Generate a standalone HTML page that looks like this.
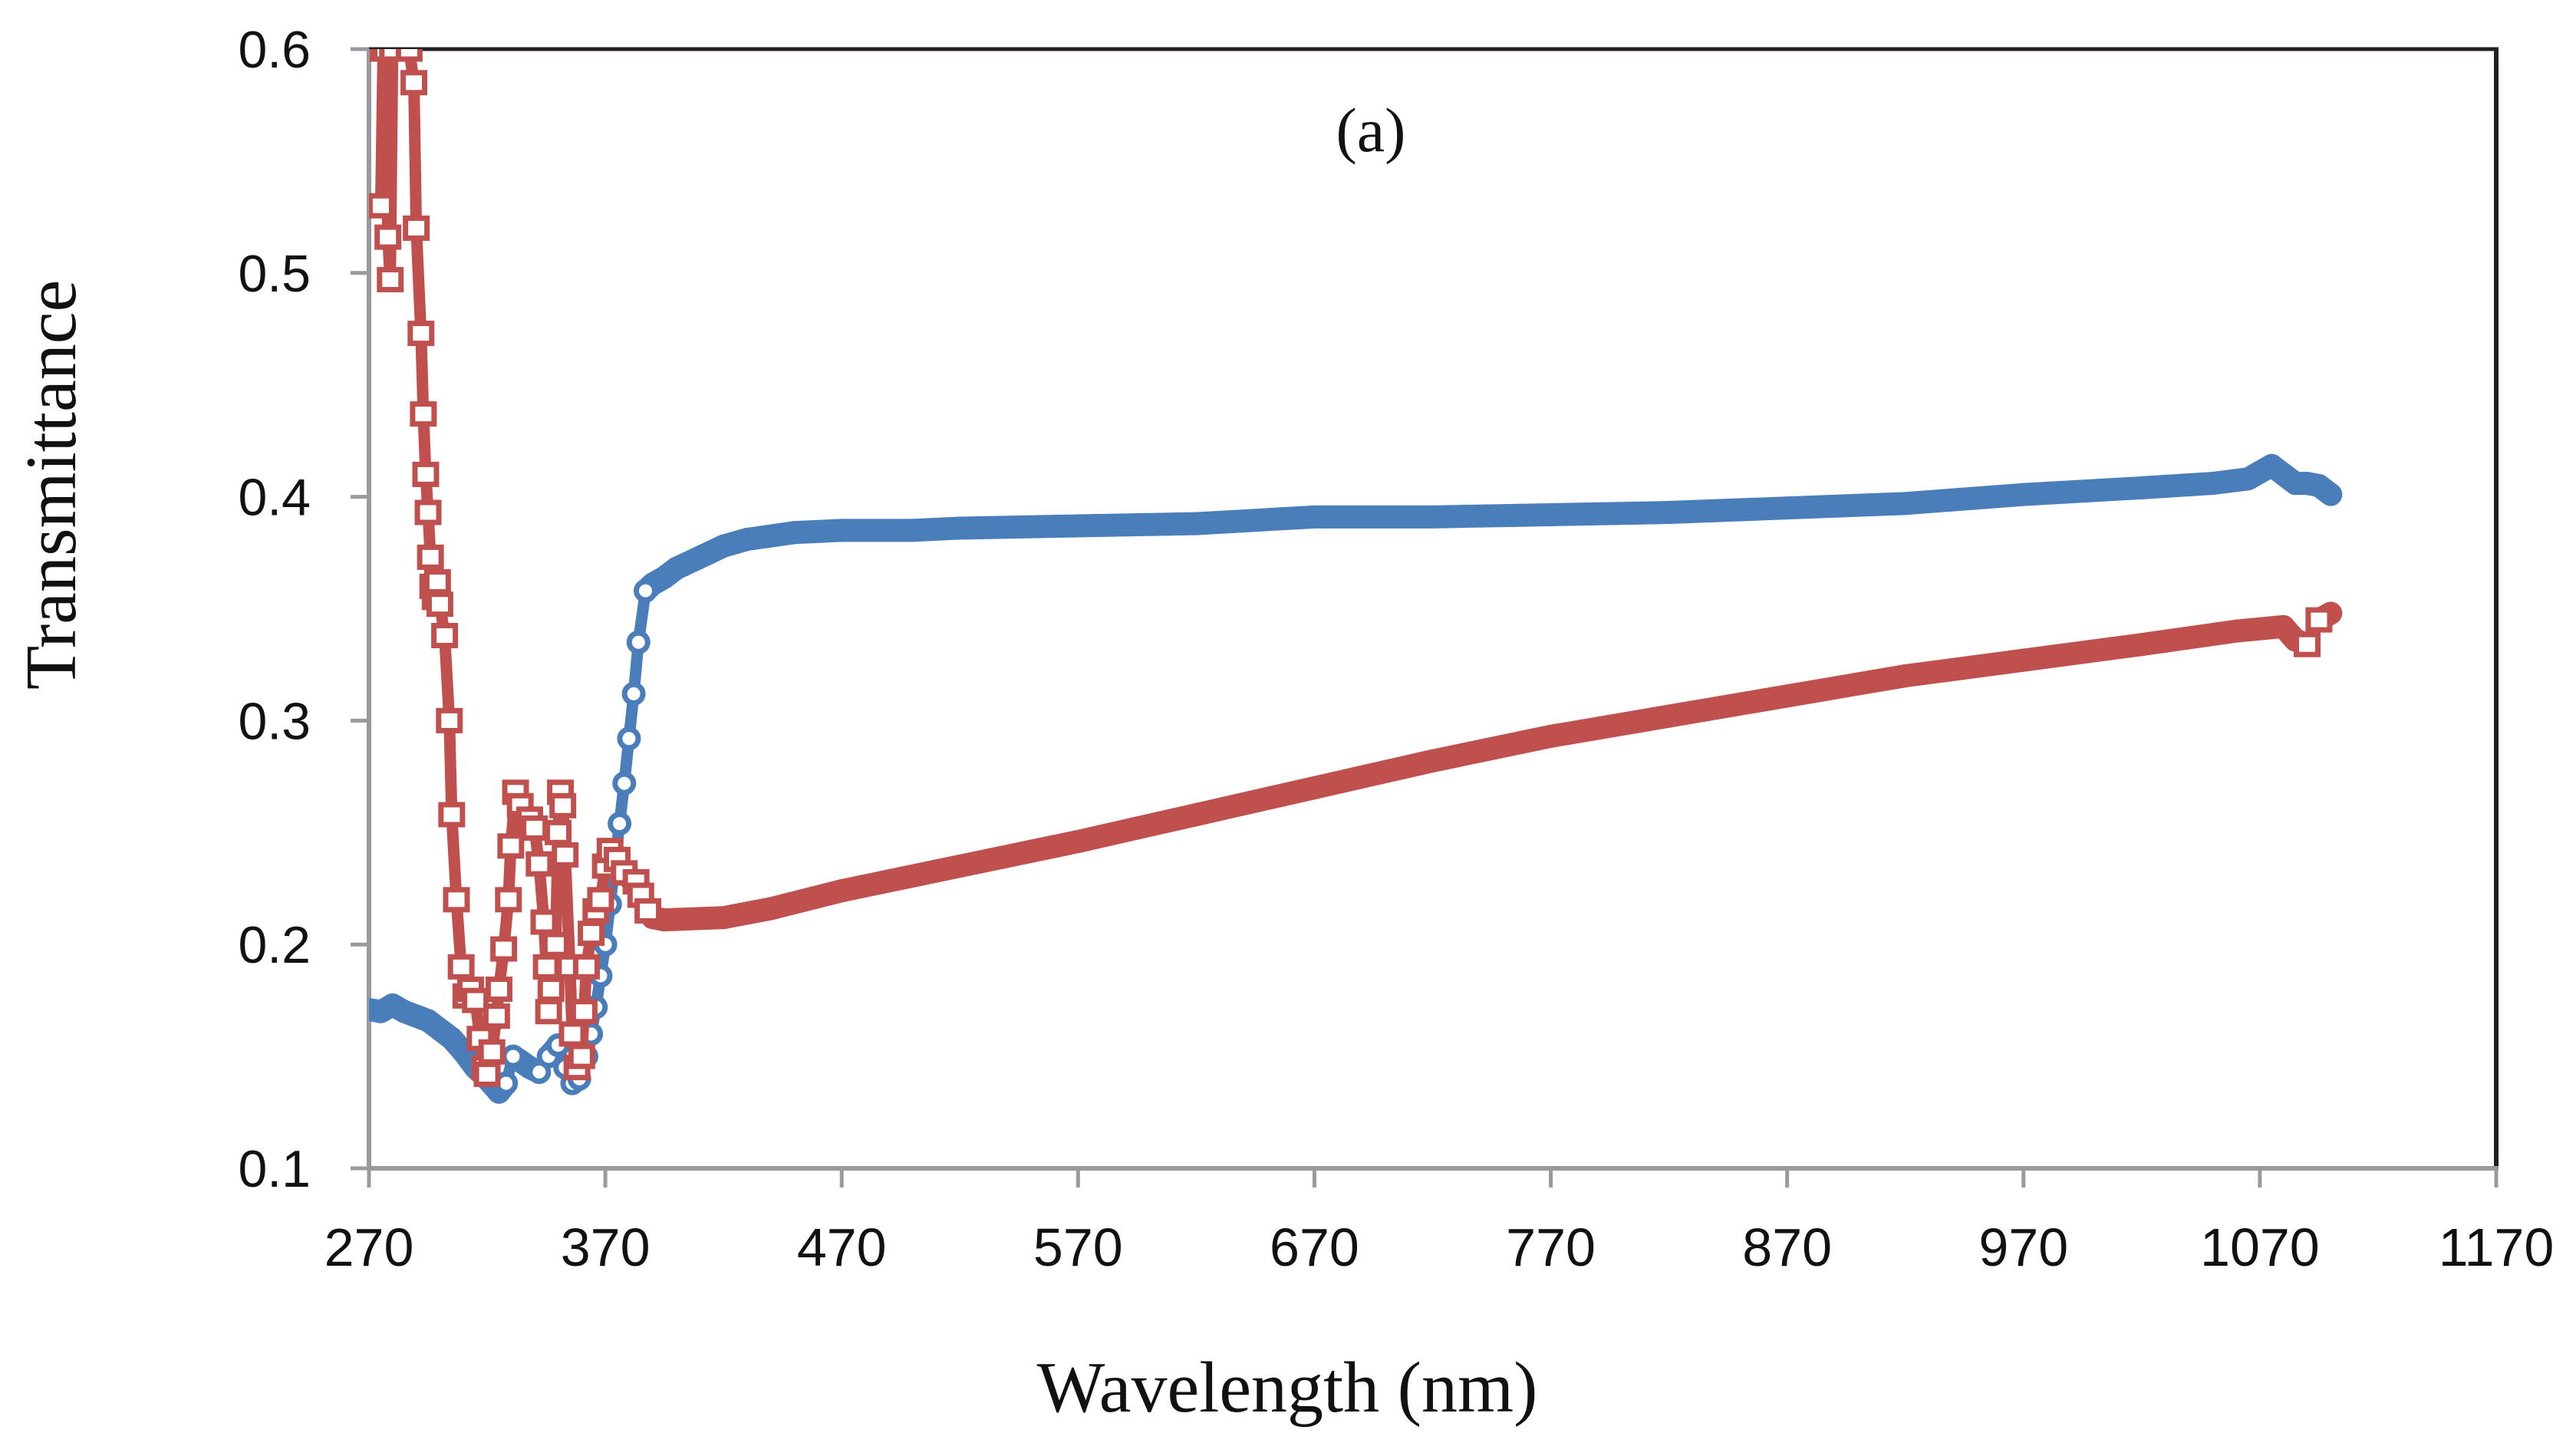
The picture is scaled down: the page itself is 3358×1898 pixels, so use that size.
<!DOCTYPE html>
<html><head><meta charset="utf-8"><style>
html,body{margin:0;padding:0;background:#fff;}
svg{display:block;}
</style></head><body>
<svg id="chart" width="3358" height="1898" viewBox="0 0 3358 1898" xmlns="http://www.w3.org/2000/svg">
<defs><clipPath id="plotclip"><rect x="481" y="64" width="2773" height="1459"/></clipPath></defs>
<rect width="3358" height="1898" fill="#fff"/>
<g id="axes"></g>
<g id="series" clip-path="url(#plotclip)"></g>
<text x="1787" y="197" font-family="Liberation Serif, serif" font-size="82" text-anchor="middle" fill="#111">(a)</text>
<text x="1678" y="1840" font-family="Liberation Serif, serif" font-size="94" text-anchor="middle" fill="#111">Wavelength (nm)</text>
<text transform="translate(98,632) rotate(-90)" x="0" y="0" font-family="Liberation Serif, serif" font-size="94" text-anchor="middle" fill="#111">Transmittance</text>
</svg>
<script>
const xTicks = [270,370,470,570,670,770,870,970,1070,1170];
const yTicks = [0.1,0.2,0.3,0.4,0.5,0.6];
const yTickLabels = ["0.1","0.2","0.3","0.4","0.5","0.6"];
const blueX = [270,275,280,285,290,295,300,305,310,315,320,325,328,331,334,338,342,346,350,353,356,359,362,364,366,368,370,372,374,376,378,380,382,384,387,390,395,400,410,420,430,450,470,500,520,570,620,670,720,770,820,870,920,970,1020,1050,1065,1075,1080,1085,1090,1095,1100];
const blueY = [0.171,0.170,0.173,0.170,0.168,0.166,0.162,0.158,0.152,0.145,0.140,0.134,0.138,0.150,0.148,0.145,0.143,0.150,0.155,0.145,0.138,0.140,0.150,0.160,0.172,0.186,0.200,0.218,0.236,0.254,0.272,0.292,0.312,0.335,0.358,0.361,0.364,0.368,0.373,0.378,0.381,0.384,0.385,0.385,0.386,0.387,0.388,0.391,0.391,0.392,0.393,0.395,0.397,0.401,0.404,0.406,0.408,0.414,0.410,0.406,0.406,0.405,0.401];
const redX = [275,276,277,278,279,280,281,283,287,289,290,292,293,294,295,296,297,298,299,300,302,304,305,307,309,311,313,315,317,319,320,322,324,325,327,329,330,332,334,336,338,340,342,344,345,346,347,349,350,351,352,353,355,356,358,360,361,362,364,366,368,370,372,375,378,380,383,385,388,390,395,420,440,470,520,570,620,670,720,770,820,870,920,970,1020,1060,1080,1085,1090,1095,1100];
const redY = [0.53,0.60,0.60,0.516,0.497,0.60,0.60,0.60,0.60,0.585,0.52,0.473,0.437,0.41,0.393,0.373,0.36,0.355,0.362,0.352,0.338,0.30,0.258,0.22,0.19,0.177,0.18,0.175,0.158,0.145,0.142,0.152,0.168,0.18,0.198,0.22,0.244,0.268,0.262,0.254,0.256,0.252,0.236,0.21,0.19,0.17,0.18,0.20,0.25,0.268,0.262,0.24,0.19,0.16,0.145,0.15,0.17,0.19,0.205,0.215,0.22,0.235,0.242,0.238,0.232,0.23,0.228,0.222,0.215,0.212,0.211,0.212,0.216,0.224,0.235,0.246,0.258,0.270,0.282,0.293,0.302,0.311,0.320,0.327,0.334,0.340,0.342,0.336,0.334,0.345,0.348];

const L=481,R=3254,T=64,B=1523;
const xs = v => L + (v-270)/(1170-270)*(R-L);
const ys = v => B - (v-0.1)/(0.6-0.1)*(B-T);
const NS='http://www.w3.org/2000/svg';
const axes=document.getElementById('axes');
const series=document.getElementById('series');
function mk(tag,attrs,parent){const e=document.createElementNS(NS,tag);for(const k in attrs)e.setAttribute(k,attrs[k]);parent.appendChild(e);return e;}

let e;
e=mk('line',{x1:L,y1:T,x2:R+3,y2:T,stroke:'#231f20','stroke-width':5},axes);


e=mk('line',{x1:R,y1:T,x2:R,y2:B,stroke:'#231f20','stroke-width':6},axes);


e=mk('line',{x1:L,y1:T,x2:L,y2:B+3,stroke:'#9a9a9e','stroke-width':6},axes);


e=mk('line',{x1:L-3,y1:B,x2:R+3,y2:B,stroke:'#9a9a9e','stroke-width':6},axes);



yTicks.forEach((v,i)=>{
  const t=mk('line',{x1:L-24,y1:ys(v),x2:L,y2:ys(v),stroke:'#9a9a9e','stroke-width':5},axes);
  
  
  const tx=mk('text',{x:405,y:ys(v)+24,'font-family':'Liberation Sans, sans-serif','font-size':68,'text-anchor':'end',fill:'#111'},axes);
  tx.textContent=yTickLabels[i];
  
  
});
xTicks.forEach(v=>{
  const t=mk('line',{x1:xs(v),y1:B,x2:xs(v),y2:B+25,stroke:'#9a9a9e','stroke-width':5},axes);
  
  
  const tx=mk('text',{x:xs(v),y:1650,'font-family':'Liberation Sans, sans-serif','font-size':70,'text-anchor':'middle',fill:'#111'},axes);
  tx.textContent=String(v);
  
  
});

function drawSeries(X,Y,color,kind,name){
  const n=X.length;
  const steepPt=new Array(n).fill(false);
  for(let i=0;i<n-1;i++){
    const x1=xs(X[i]),y1=ys(Y[i]),x2=xs(X[i+1]),y2=ys(Y[i+1]);
    const steep=Math.abs(y2-y1)>Math.abs(x2-x1)*1.5;
    if(steep){steepPt[i]=true;steepPt[i+1]=true;}
    const s=mk('line',{x1:x1,y1:y1,x2:x2,y2:y2,stroke:color,'stroke-width':steep?15:30,'stroke-linecap':'round'},series);
    
    
  }
  for(let i=0;i<n;i++){
    if(!steepPt[i])continue;
    let m;
    if(kind==='circle'){
      m=mk('circle',{cx:xs(X[i]),cy:ys(Y[i]),r:12,fill:'#fff',stroke:color,'stroke-width':7},series);
    } else {
      m=mk('rect',{x:xs(X[i])-14,y:ys(Y[i])-13,width:28,height:26,fill:'#fff',stroke:color,'stroke-width':7},series);
    }
    
    
  }
}
drawSeries(blueX,blueY,'#4a7ebb','circle','blue-series');
drawSeries(redX,redY,'#c0504d','square','red-series');
</script>
</body></html>
